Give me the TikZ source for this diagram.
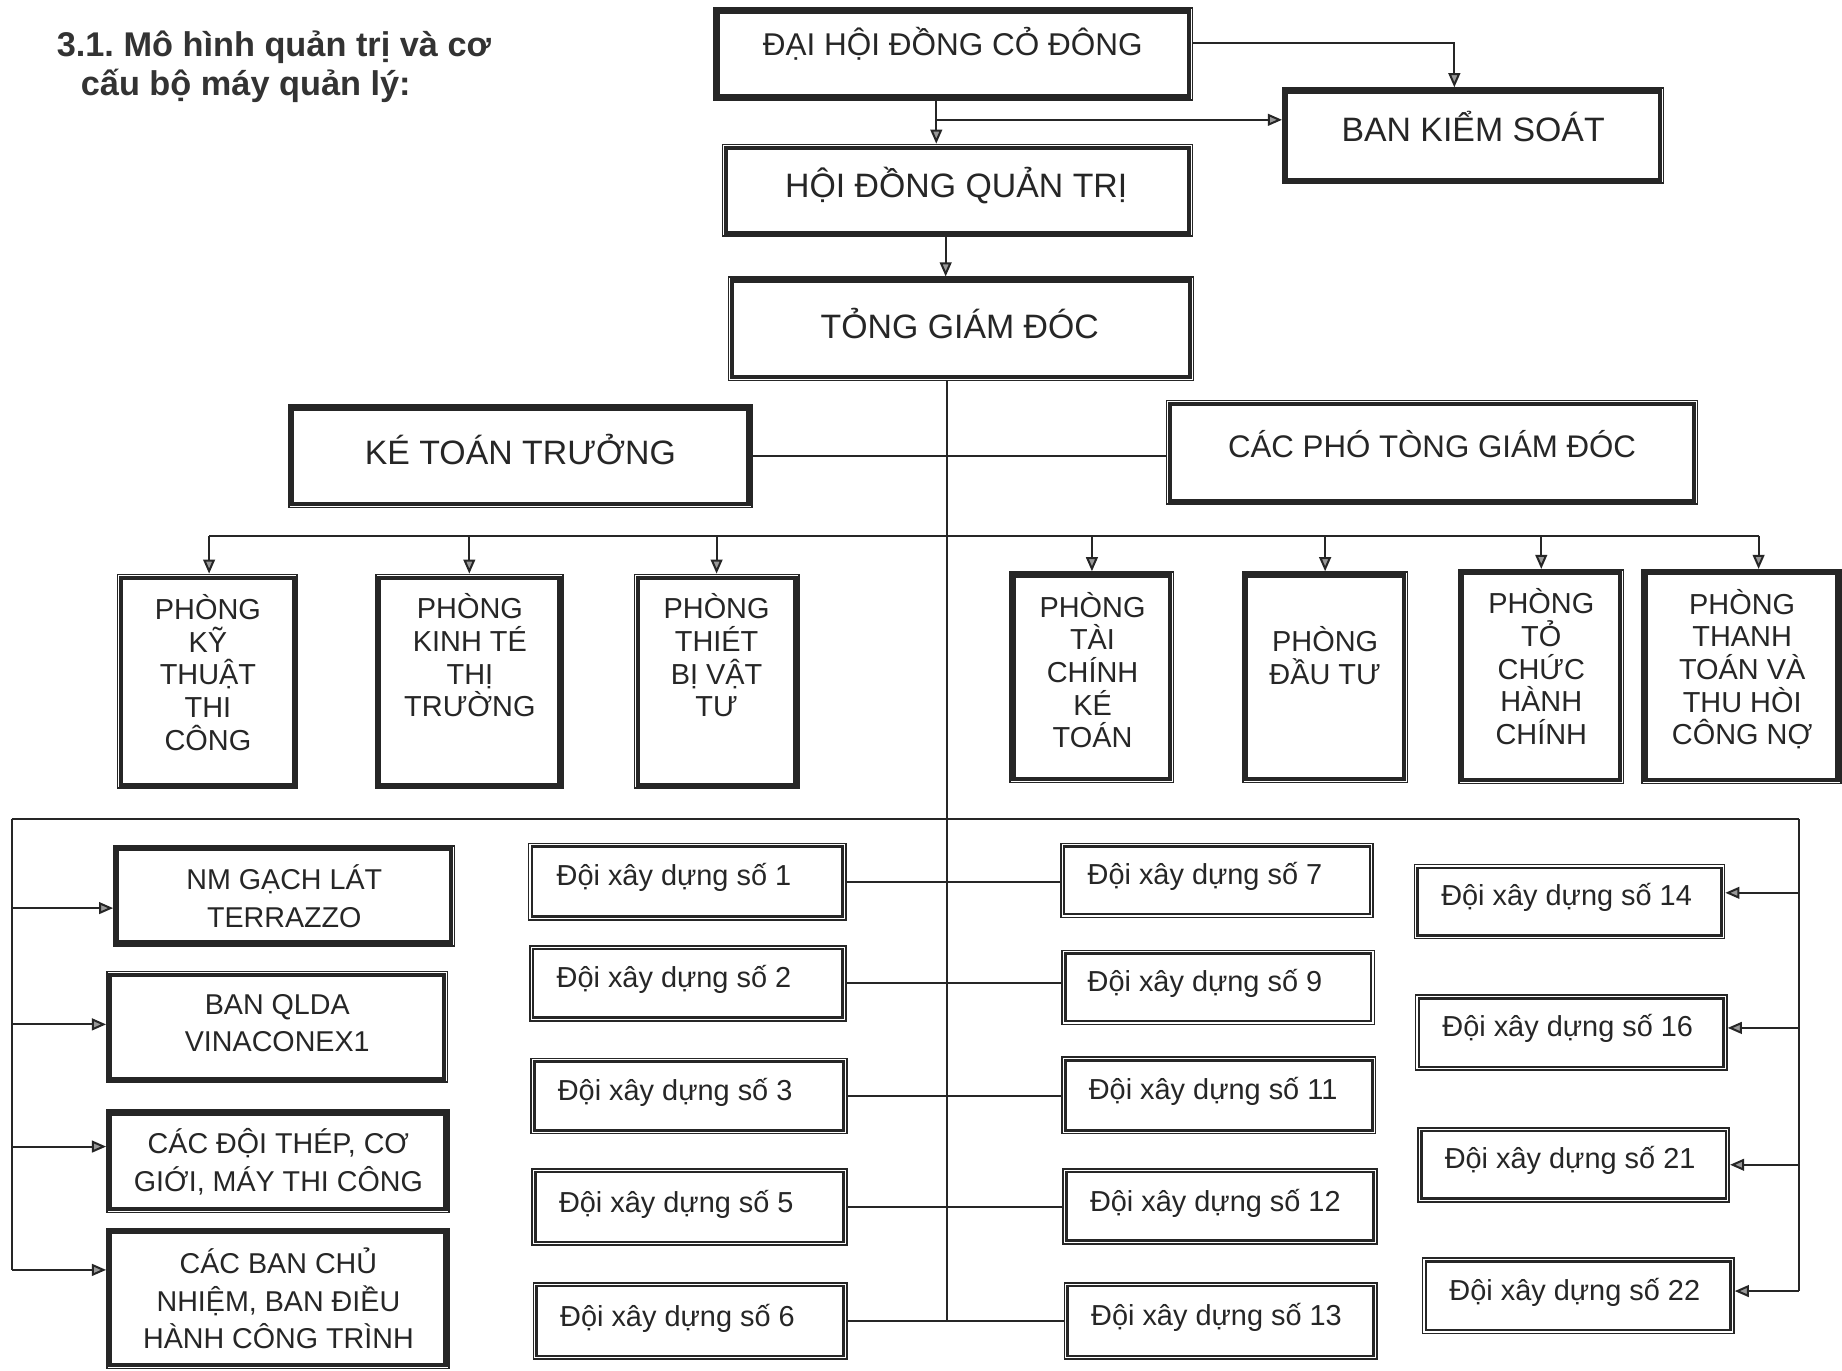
\documentclass[tikz,border=0pt]{standalone}
\usepackage{fontspec}
\setmainfont{Liberation Sans}
\usetikzlibrary{arrows.meta,fit}
\frenchspacing
\begin{document}
\begin{tikzpicture}[x=0.5pt,y=-0.5pt,line width=0.85pt,
  box/.style={draw=black!85, line width=0.7pt, inner sep=0pt, fill=white},
  txt/.style={align=center, inner sep=0pt, text=black!85},
  big/.style={txt, font=\fontsize{14.4}{17}\selectfont},
  ph/.style={txt, font=\fontsize{12.3}{13.9}\selectfont},
  lb/.style={txt, font=\fontsize{12.2}{16}\selectfont},
  tm/.style={txt, anchor=west, font=\fontsize{12.3}{14}\selectfont},
  arr/.style={-{Triangle[length=6pt,width=5pt,fill=black!40]}},
  conn/.style={draw=black!85}]
\useasboundingbox (0,0) rectangle (1568,1167);
\fill[white] (0,0) rectangle (1568,1167);

% title
\node[anchor=base west, inner sep=0pt, text=black!80, font=\bfseries\fontsize{14.6}{17}\selectfont] (title1) at (47.5,48) {3.1. Mô hình quản trị và cơ};
\node[anchor=base west, inner sep=0pt, text=black!80, font=\bfseries\fontsize{14.6}{17}\selectfont] (title2) at (68,81) {cấu bộ máy quản lý:};

% top boxes
\node[box, fit={(608,7) (1015,85)}] (dh) {};
\node[box, fit={(1092,75) (1416,156)}] (bks) {};
\node[box, fit={(615,123) (1015,201)}] (hd) {};
\node[box, fit={(620,236) (1016,324)}] (tgd) {};
\node[box, fit={(246,345) (640,432)}] (ktt) {};
\node[box, fit={(993,341) (1445,429)}] (cp) {};
% phong
\node[box, fit={(100,489) (253,671)}] (p1) {};
\node[box, fit={(320,489) (479,671)}] (p2) {};
\node[box, fit={(540,489) (680,671)}] (p3) {};
\node[box, fit={(860,487) (999,666)}] (p4) {};
\node[box, fit={(1058,487) (1198,666)}] (p5) {};
\node[box, fit={(1242,485) (1382,667)}] (p6) {};
\node[box, fit={(1398,485) (1567,667)}] (p7) {};
% left boxes
\node[box, fit={(97,720) (387,805)}] (l1) {};
\node[box, fit={(91,827) (381,921)}] (l2) {};
\node[box, fit={(91,945) (382,1032)}] (l3) {};
\node[box, fit={(91,1046) (382,1165)}] (l4) {};
% doi boxes
\node[box, fit={(450,718) (720,783)}] (d1) {};
\node[box, fit={(451,805) (720,869)}] (d2) {};
\node[box, fit={(452,901) (721,965)}] (d3) {};
\node[box, fit={(453,995) (721,1060)}] (d5) {};
\node[box, fit={(454,1092) (721,1157)}] (d6) {};
\node[box, fit={(903,718) (1169,781)}] (d7) {};
\node[box, fit={(904,809) (1170,872)}] (d9) {};
\node[box, fit={(904,900) (1171,965)}] (d11) {};
\node[box, fit={(905,995) (1172,1059)}] (d12) {};
\node[box, fit={(906,1092) (1172,1157)}] (d13) {};
\node[box, fit={(1204,736) (1468,799)}] (d14) {};
\node[box, fit={(1205,847) (1470,911)}] (d16) {};
\node[box, fit={(1207,960) (1472,1023)}] (d21) {};
\node[box, fit={(1211,1071) (1476,1135)}] (d22) {};

% inner borders
\foreach \n in {dh,bks,hd,tgd,ktt,cp,p1,p2,p3,p4,p5,p6,p7,l1,l2,l3,l4}
  \draw[draw=black!85, line width=1.8pt] ([shift={(3.5,3.5)}]\n.north west) rectangle ([shift={(-3.5,-3.5)}]\n.south east);
\foreach \n in {d1,d2,d3,d5,d6,d7,d9,d11,d12,d13,d14,d16,d21,d22}
  \draw[draw=black!85, line width=1.1pt] ([shift={(3.5,3.5)}]\n.north west) rectangle ([shift={(-3.5,-3.5)}]\n.south east);

% texts
\node[big, font=\fontsize{13.4}{16}\selectfont] (dh-t) at (811,37) {ĐẠI HỘI ĐỒNG CỎ ĐÔNG};
\node[big] (bks-t) at (1254,108) {BAN KIỂM SOÁT};
\node[big] (hd-t) at (814,158) {HỘI ĐỒNG QUẢN TRỊ};
\node[big] (tgd-t) at (817,275) {TỎNG GIÁM ĐÓC};
\node[big] (ktt-t) at (443,383) {KÉ TOÁN TRƯỞNG};
\node[big, font=\fontsize{13.3}{16}\selectfont] (cp-t) at (1219,378) {CÁC PHÓ TÒNG GIÁM ĐÓC};

\node[ph] (p1-t) at (177,572.5) {PHÒNG\\KỸ\\THUẬT\\THI\\CÔNG};
\node[ph] (p2-t) at (400,558) {PHÒNG\\KINH TÉ\\THỊ\\TRƯỜNG};
\node[ph] (p3-t) at (610,558) {PHÒNG\\THIÉT\\BỊ VẬT\\TƯ};
\node[ph] (p4-t) at (930,570.5) {PHÒNG\\TÀI\\CHÍNH\\KÉ\\TOÁN};
\node[ph] (p5-t) at (1128,558) {PHÒNG\\ĐẦU TƯ};
\node[ph] (p6-t) at (1312,567.5) {PHÒNG\\TỎ\\CHỨC\\HÀNH\\CHÍNH};
\node[ph] (p7-t) at (1483,569.5) {PHÒNG\\THANH\\TOÁN VÀ\\THU HÒI\\CÔNG NỢ};

\node[lb] (l1-t) at (242,763) {NM GẠCH LÁT\\TERRAZZO};
\node[lb] (l2-t) at (236,871) {BAN QLDA\\VINACONEX1};
\node[lb] (l3-t) at (237,989) {CÁC ĐỘI THÉP, CƠ\\GIỚI, MÁY THI CÔNG};
\node[lb] (l4-t) at (237,1105.5) {CÁC BAN CHỦ\\NHIỆM, BAN ĐIỀU\\HÀNH CÔNG TRÌNH};

\node[tm] (d1-t) at (473,747) {Đội xây dựng số 1};
\node[tm] (d2-t) at (473,834) {Đội xây dựng số 2};
\node[tm] (d3-t) at (474,930) {Đội xây dựng số 3};
\node[tm] (d5-t) at (475,1025) {Đội xây dựng số 5};
\node[tm] (d6-t) at (476,1122) {Đội xây dựng số 6};
\node[tm] (d7-t) at (925,746) {Đội xây dựng số 7};
\node[tm] (d9-t) at (925,837) {Đội xây dựng số 9};
\node[tm] (d11-t) at (926,929) {Đội xây dựng số 11};
\node[tm] (d12-t) at (927,1024) {Đội xây dựng số 12};
\node[tm] (d13-t) at (928,1121) {Đội xây dựng số 13};
\node[tm] (d14-t) at (1226,764) {Đội xây dựng số 14};
\node[tm] (d16-t) at (1227,875) {Đội xây dựng số 16};
\node[tm] (d21-t) at (1229,988) {Đội xây dựng số 21};
\node[tm] (d22-t) at (1233,1100) {Đội xây dựng số 22};

% connectors top
\draw[conn, arr] ([shift={(0,-9)}]dh.east) -| ([shift={(-16,0)}]bks.north);
\draw[conn, arr] ([shift={(-14.5,0)}]dh.south) -- ([shift={(-18,0)}]hd.north);
\coordinate (j1) at (797,102);
\draw[conn, arr] (j1) -- (j1 -| bks.west);
\draw[conn, arr] ([shift={(-10,0)}]hd.south) -- ([shift={(-13,0)}]tgd.north);
\coordinate (sp) at ([shift={(-12,0)}]tgd.south);
\draw[conn] (sp) -- (sp |- d13.west);
\draw[conn] (ktt.east) -- (ktt.east -| cp.west);

% phong bus
\coordinate (bus1) at (178,456);
\coordinate (bus2) at (1497,456);
\draw[conn] (bus1) -- (bus2);
\draw[conn, arr] (bus1) -- (bus1 |- p1.north);
\foreach \n in {p2,p3,p4,p5,p6}
  \draw[conn, arr] (\n.north |- bus1) -- (\n.north);
\draw[conn, arr] (bus2) -- (bus2 |- p7.north);

% bottom bus
\coordinate (bl) at (10,697);
\coordinate (br) at (1531,697);
\draw[conn] (bl) -- (br);
\coordinate (a1) at ([shift={(0,10.5)}]l1.west);
\coordinate (a2) at ([shift={(0,-2)}]l2.west);
\coordinate (a3) at ([shift={(0,-12.5)}]l3.west);
\coordinate (a4) at ([shift={(0,-24.5)}]l4.west);
\draw[conn] (bl) -- (a4 -| bl);
\foreach \a in {a1,a2,a3,a4}
  \draw[conn, arr] (\a -| bl) -- (\a);
\coordinate (b14) at ([shift={(0,-7.5)}]d14.east);
\coordinate (b16) at ([shift={(0,-4)}]d16.east);
\coordinate (b21) at (d21.east);
\coordinate (b22) at ([shift={(0,-4)}]d22.east);
\draw[conn] (br) -- (b22 -| br);
\foreach \b in {b14,b16,b21,b22}
  \draw[conn, arr] (\b -| br) -- (\b);

% team links
\draw[conn] (d1.east) -- (d1.east -| d7.west);
\draw[conn] (d2.east) -- (d2.east -| d9.west);
\draw[conn] (d3.east) -- (d3.east -| d11.west);
\draw[conn] (d5.east) -- (d5.east -| d12.west);
\draw[conn] (d6.east) -- (d6.east -| d13.west);
\end{tikzpicture}
\end{document}
